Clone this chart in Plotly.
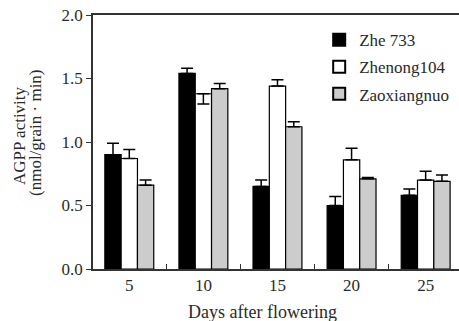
import plotly.graph_objects as go

days = ["5", "10", "15", "20", "25"]
zhe733 = [0.90, 1.54, 0.65, 0.50, 0.58]
zhe733_err = [0.09, 0.04, 0.05, 0.07, 0.05]
zhenong104 = [0.87, 1.38, 1.44, 0.86, 0.70]
zhenong104_err = [0.07, 0.0, 0.05, 0.09, 0.07]
zhenong104_err_minus = [0.0, 0.08, 0.0, 0.0, 0.0]
zaoxiangnuo = [0.66, 1.42, 1.12, 0.71, 0.69]
zaoxiangnuo_err = [0.04, 0.04, 0.04, 0.01, 0.05]
yticks = [0.0, 0.5, 1.0, 1.5, 2.0]

FONT = "Liberation Serif"
TXT = "#2a2a2a"

def err(plus, minus=None):
    return dict(type="data", array=plus, symmetric=False,
                arrayminus=minus if minus is not None else [0] * len(plus),
                color="black", thickness=1.5, width=6, visible=True)

fig = go.Figure()
fig.add_trace(go.Bar(x=days, y=zhe733, name="Zhe 733", legendgroup="a",
                     marker=dict(color="black", line=dict(color="black", width=1.2)),
                     error_y=err(zhe733_err)))
fig.add_trace(go.Bar(x=days, y=zhenong104, name="Zhenong104", legendgroup="b",
                     marker=dict(color="white", line=dict(color="black", width=1.2)),
                     error_y=err(zhenong104_err, zhenong104_err_minus)))
fig.add_trace(go.Bar(x=days, y=zaoxiangnuo, name="Zaoxiangnuo", legendgroup="c",
                     marker=dict(color="#cccccc", line=dict(color="black", width=1.2)),
                     error_y=err(zaoxiangnuo_err)))

fig.update_layout(
    width=459, height=321,
    margin=dict(l=93, r=0, t=15, b=52, autoexpand=False),
    paper_bgcolor="white", plot_bgcolor="white",
    barmode="group", bargap=0.34, bargroupgap=0,
    font=dict(family=FONT, size=16, color=TXT),
    showlegend=True,
    legend=dict(x=0.618, y=0.972, xanchor="left", yanchor="top", bgcolor="rgba(0,0,0,0)",
                font=dict(family=FONT, size=17, color=TXT), tracegroupgap=2,
                traceorder="grouped", itemsizing="constant"),
    xaxis=dict(type="category", range=[-0.49, 4.45], showline=True, linecolor="#333", linewidth=1.5,
               mirror=True, ticks="inside", tickson="boundaries", ticklen=5, tickcolor="#333",
               automargin=False, tickfont=dict(family=FONT, size=17, color=TXT), showgrid=False),
    yaxis=dict(range=[0, 2.0], tickvals=yticks, tickformat=".1f", showline=True, linecolor="#333", linewidth=1.5,
               ticks="outside", ticklen=5, tickcolor="#333", showgrid=False, zeroline=False,
               automargin=False, tickfont=dict(family=FONT, size=17, color=TXT)),
    annotations=[
        dict(text="AGPP activity", xref="paper", yref="paper", x=(19 - 93) / 366, y=(269 - 136) / 254,
             xanchor="center", yanchor="middle", textangle=-90, showarrow=False,
             font=dict(family=FONT, size=17, color=TXT)),
        dict(text="(nmol/grain · min)", xref="paper", yref="paper", x=(35 - 93) / 366, y=(269 - 133) / 254,
             xanchor="center", yanchor="middle", textangle=-90, showarrow=False,
             font=dict(family=FONT, size=17, color=TXT)),
        dict(text="Days after flowering", xref="paper", yref="paper", x=(262 - 93) / 366, y=(269 - 312) / 254,
             xanchor="center", yanchor="middle", showarrow=False,
             font=dict(family=FONT, size=18, color=TXT)),
    ],
)

fig.write_html("out.html", config={"displayModeBar": False},
               post_script="document.body.style.margin='0';")
